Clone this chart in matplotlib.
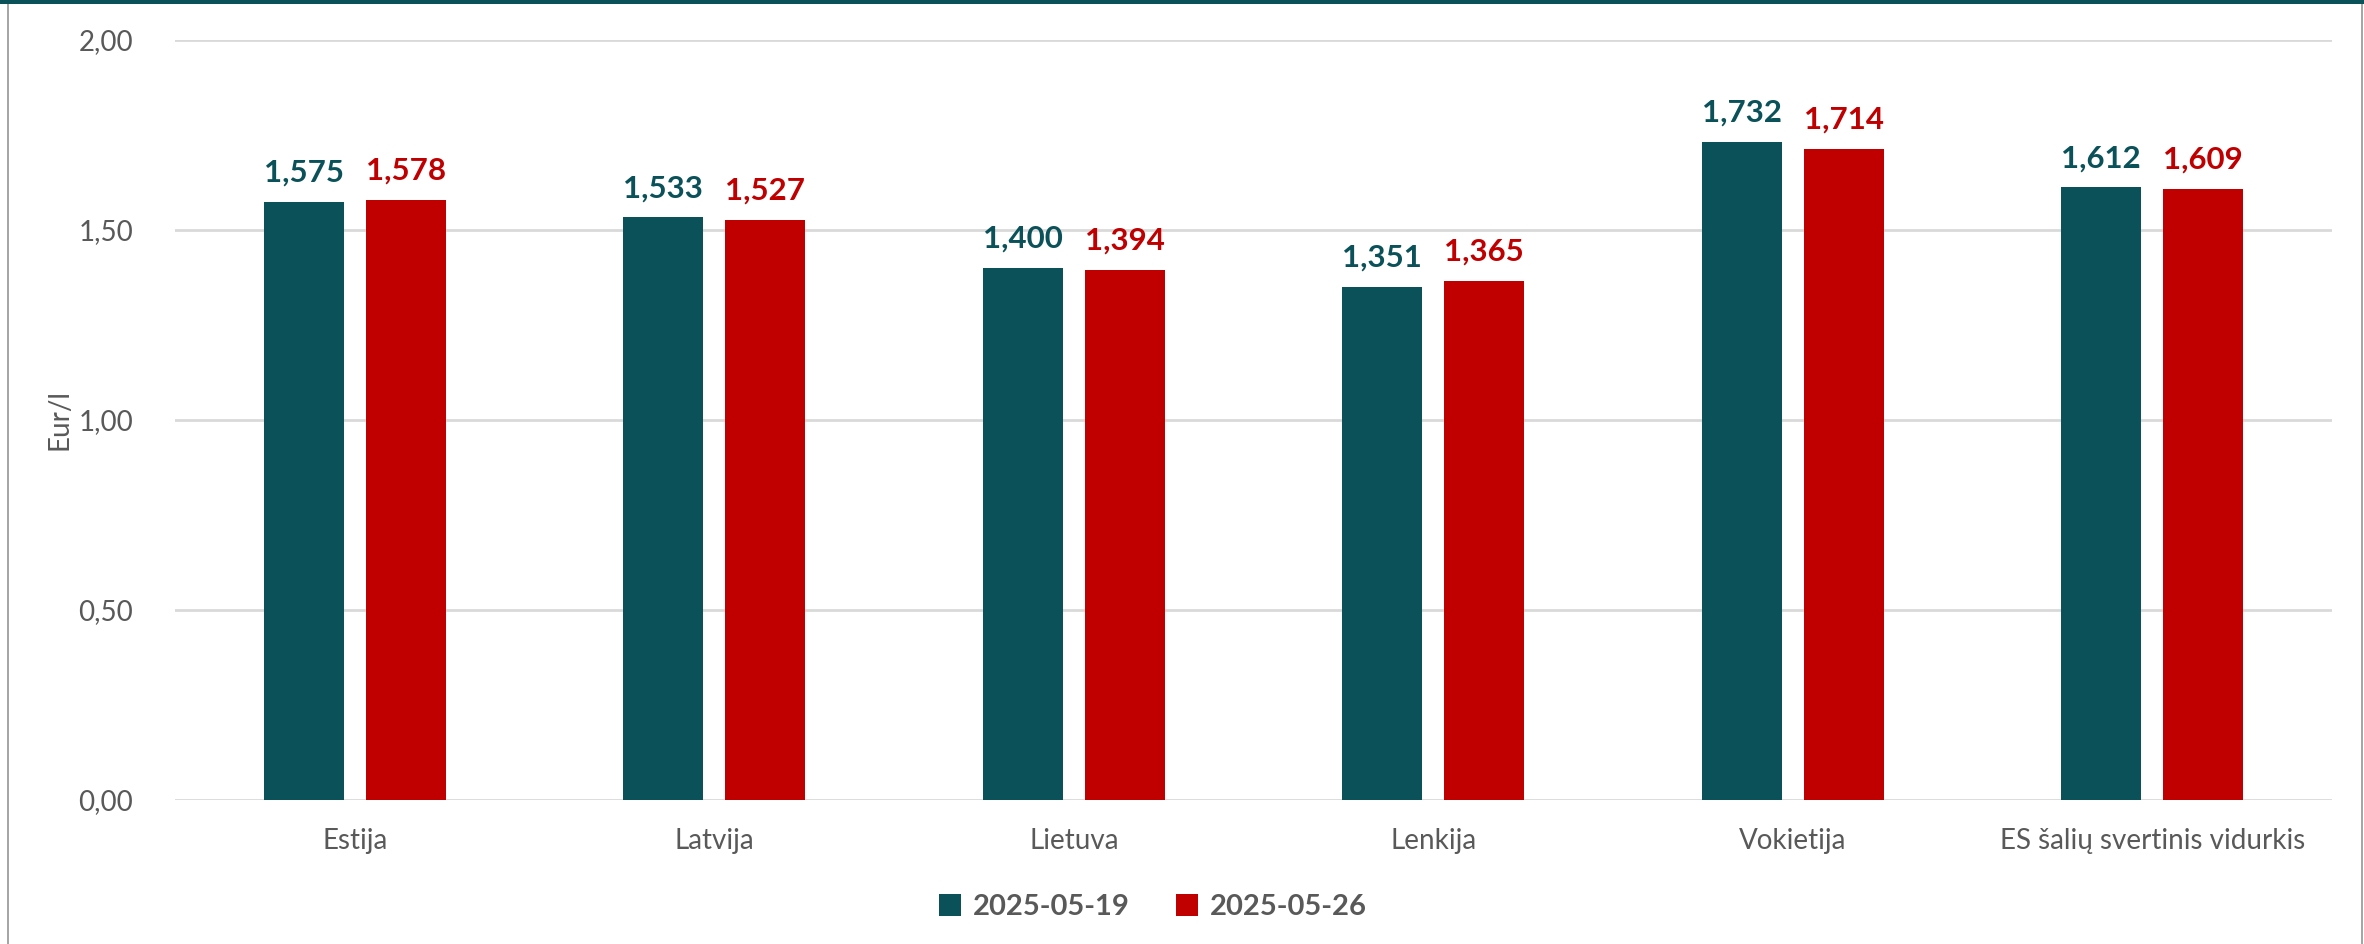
import matplotlib
matplotlib.use("Agg")
import matplotlib.pyplot as plt
from matplotlib.patches import Rectangle, Patch
import numpy as np

categories = ["Estija", "Latvija", "Lietuva", "Lenkija", "Vokietija", "ES šalių svertinis vidurkis"]
series_names = ["2025-05-19", "2025-05-26"]
values_a = [1.575, 1.533, 1.400, 1.351, 1.732, 1.612]
values_b = [1.578, 1.527, 1.394, 1.365, 1.714, 1.609]
yticks = [0.0, 0.5, 1.0, 1.5, 2.0]

TEAL = "#0A5159"
RED = "#C00000"
GRAY = "#595959"

plt.rcParams['font.family'] = ['Lato', 'DejaVu Sans']

W, H = 2364, 944
fig = plt.figure(figsize=(W / 100, H / 100), dpi=100)
ax = fig.add_axes([175 / W, 1 - 800 / H, (2332 - 175) / W, (800 - 40) / H])

x = np.arange(len(categories))
bw = 0.223
off = 0.142
bars_a = ax.bar(x - off, values_a, bw, color=TEAL, zorder=3)
bars_b = ax.bar(x + off, values_b, bw, color=RED, zorder=3)

def fmt(v):
    return f"{v:.3f}".replace(".", ",")

for bars, vals, col in [(bars_a, values_a, TEAL), (bars_b, values_b, RED)]:
    for b, v in zip(bars, vals):
        ax.annotate(fmt(v), (b.get_x() + b.get_width() / 2, v), xytext=(0, 11),
                    textcoords="offset points", ha="center", va="bottom",
                    fontsize=22.5, fontweight="bold", color=col)

ax.set_xlim(-0.5, len(categories) - 0.5)
ax.set_ylim(0, 2.0)
ax.set_yticks(yticks)
ax.set_yticklabels([f"{t:.2f}".replace(".", ",") for t in yticks])
ax.set_xticks(x)
ax.set_xticklabels(categories)
ax.tick_params(axis="y", length=0, pad=30, labelsize=20, labelcolor=GRAY)
ax.tick_params(axis="x", length=0, pad=20, labelsize=20, labelcolor=GRAY)
ax.grid(axis="y", color="#D9D9D9", linewidth=2, zorder=0)
for s in ax.spines.values():
    s.set_visible(False)
ax.set_ylabel("Eur/l", fontsize=20, color=GRAY)
ax.yaxis.set_label_coords((72 - 175) / (2332 - 175), 0.5)

handles = [Patch(facecolor=TEAL), Patch(facecolor=RED)]
fig.legend(handles, series_names, loc="center", bbox_to_anchor=(1153 / W, 1 - 907 / H),
           ncol=2, frameon=False, handlelength=0.75, handleheight=0.75,
           handletextpad=0.4, columnspacing=1.6,
           prop={"size": 21, "weight": "bold"}, labelcolor=GRAY)

# frame decorations
fig.patches.append(Rectangle((7 / W, 0), 2 / W, 1, transform=fig.transFigure,
                             facecolor="#A6A6A6", edgecolor="none"))
fig.patches.append(Rectangle((2361 / W, 0), 2 / W, 1, transform=fig.transFigure,
                             facecolor="#A6A6A6", edgecolor="none"))
fig.patches.append(Rectangle((0, 1 - 4 / H), 1, 4 / H, transform=fig.transFigure,
                             facecolor=TEAL, edgecolor="none"))

fig.savefig("out.png", dpi=100)
